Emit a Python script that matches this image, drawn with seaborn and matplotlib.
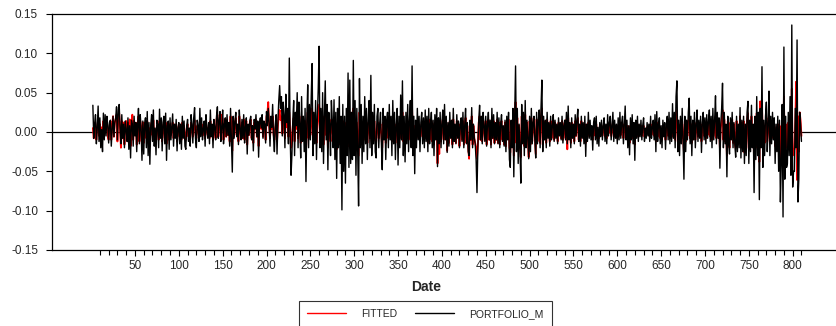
import numpy as np
import pandas as pd
import matplotlib
matplotlib.use("Agg")
import matplotlib.pyplot as plt
import seaborn as sns
from matplotlib.ticker import FixedLocator, FormatStrFormatter

# ---------------- data (values in thousandths) ----------------
first_date = 2
series_names = ["FITTED", "PORTFOLIO_M"]
y_ticks = [-0.15, -0.10, -0.05, 0.00, 0.05, 0.10, 0.15]
x_major_ticks = list(range(50, 801, 50))
x_minor_ticks = list(range(10, 811, 10))

portfolio_m_milli = [
    34, -8, 10, 22, -15, 5, 33, -12, 18, -20, 3, -25, 24, -10, 22, -5, 20, 8, -14, 12,
    15, -18, 4, 20, -6, 12, 18, 32, -10, 28, 35, 5, -15, 22, -8, 10, -20, 14, 3, -12,
    18, -22, 8, -33, 15, 10, -18, 20, -5, 12, -25, 8, 30, -15, 22, 5, -36, 14, -28, 10,
    18, -20, 26, -30, 12, -41, 8, 22, -12, 28, -18, 5, -29, 15, 10, -20, 29, -8, 18, -24,
    12, 20, -15, 24, -36, 8, 14, -22, 18, -10, 6, 23, -18, 10, -8, 16, -24, 5, 12, -15,
    10, -22, 20, -8, 14, -18, -22, 8, 16, -12, 5, -18, 22, 10, -14, 18, 31, -8, -20, 15,
    8, -12, 30, -6, 18, -10, 4, 14, -18, 22, 5, -8, 12, -15, 28, -6, 10, -20, 16, 6,
    -10, 20, 32, -8, 14, 26, -12, 5, 28, -15, 10, 18, -6, 22, -4, 12, -18, 30, -10, -51,
    20, -8, 14, 25, -6, 10, -16, 28, 4, -10, 16, -8, 22, -14, 6, 18, -28, 10, -4, 14,
    20, -10, 8, -24, 16, 4, 22, -6, 14, -32, 12, 18, 5, 22, -8, 14, 10, -14, 26, 8,
    30, 12, -18, 20, 6, 35, -6, -25, 10, 22, -28, 14, 40, 59, 30, 45, -5, 38, 22, -20,
    48, 12, 30, -15, 94, -5, -55, -28, 15, 40, -30, 25, 8, 50, -20, 38, 10, -33, 45, -12,
    20, -25, 30, -63, 15, 60, -20, 35, -10, 45, 87, -30, 25, -15, 40, -35, 20, 55, 109, -20,
    30, -25, 50, -40, 20, 65, -10, 35, -48, 25, 10, -30, 40, 15, -20, 41, -35, 25, -59, 30,
    -20, 45, -40, 20, -99, 35, -50, 20, -65, 30, -30, 75, -45, 66, -40, 25, -35, 91, -30, 40,
    -55, 30, -25, -94, 68, -20, 35, -40, 20, -25, 45, -15, 30, -35, 15, 40, -20, 72, -30, 25,
    -15, 35, -25, -33, 20, 30, -20, 10, 25, -15, -48, 30, -10, 20, -35, 15, 25, -20, 35, -10,
    20, -30, 40, -15, 25, -35, 10, 30, -42, 20, -20, 47, -10, 65, -30, 20, -38, 25, -15, 35,
    -25, 15, 40, -20, 84, -30, 20, -53, 15, -20, 30, -10, 20, -25, 12, 25, -15, 18, -20, 28,
    -12, 20, -25, 30, -15, 10, 25, -20, 15, -30, 22, -10, 30, -44, 18, -15, 25, -20, 10, 28,
    -15, 35, -10, 20, -26, 12, -18, 25, -8, 15, -20, 30, -12, 10, -15, 22, -8, 14, -20, 10,
    18, -12, 25, -20, 8, 30, -15, 12, -25, -30, 15, -10, 31, -20, 10, -8, -15, -35, -77, -20,
    15, 34, -10, 20, -15, 25, 8, -12, 20, -18, 10, 25, -10, 15, -20, 30, -8, 22, -15, 12,
    -10, 25, -15, 18, -20, 10, 22, -12, 8, -18, 15, -25, 20, -10, 25, -35, -45, 15, -20, 30,
    -57, 20, 84, -25, 30, -40, 10, -20, -65, 35, -15, 25, -30, 40, -20, 15, -10, -34, 20, -25,
    30, -15, 12, 20, -10, -33, 25, -15, 15, 28, -20, 30, 66, -25, 20, -10, 15, -20, 25, -8,
    12, -18, 20, -10, 8, 22, -12, 15, -8, 10, -15, 18, -5, 12, -10, 20, -14, 8, 15, -10,
    25, -15, 33, -10, 12, -20, 18, -8, 10, -15, 22, -5, 15, 29, -12, 10, -18, 20, -8, 12,
    -15, 20, -31, 10, -12, 25, -8, 15, -10, 8, -23, 12, 18, -10, 20, -15, 6, -18, 12, -6,
    15, -10, 8, 18, -12, 10, -15, 22, -5, 12, 20, -10, 8, 25, -12, 15, -8, 10, -15, 18,
    -10, 25, -8, 12, 20, -15, 10, 33, -10, 15, -20, 8, -29, 18, -10, 22, -15, 12, -36, 15,
    -8, 20, -12, 10, -6, 15, -10, 8, 18, -12, 5, -8, 12, -5, 10, -12, 20, -8, 6, 15,
    -10, 22, -25, 26, -12, 10, 18, -15, 8, -20, 15, -6, 12, -22, 10, 20, -10, 25, -15, 18,
    -12, 36, -8, 25, -20, 45, 65, -25, 15, -30, 20, -15, 30, -10, -60, 20, -25, 15, -10, 25,
    43, -15, 20, -30, 15, -10, 25, -20, 10, 28, -12, 15, -8, 20, -26, 12, 25, -10, 18, -15,
    22, -8, 15, 28, -12, 20, -20, 30, -10, 15, 46, -15, 25, -8, 18, -46, 10, 30, 62, -20,
    25, -15, 10, -57, 20, -15, -28, 18, -10, 25, -20, 12, -15, -32, 20, -25, 10, -20, 31, -33,
    15, -25, 20, -40, 10, -30, 25, 39, -40, 15, -25, 34, -20, 10, -77, 20, -35, 45, -30, 25,
    -86, 30, -20, 83, -45, 15, -30, 20, 38, -25, 10, 52, -30, 20, -15, 25, -10, 18, -40, 10,
    -25, 20, -50, 15, -89, -40, 35, -108, 108, -60, 20, -45, -40, 25, -30, 45, -55, 136, -70, -50,
    -50, 30, -20, 117, -89, -60, 25, 10, -12,
]

fitted_milli = [
    5, -8, 12, 3, -10, 8, 15, -5, 10, -12, 6, -8, 14, -4, 10, 2, 12, -6, -10, 8,
    14, -10, 8, 20, -6, 12, 16, 22, -12, 18, 24, 4, -20, 14, -8, 12, -16, 10, 14, -8,
    12, -14, 16, -18, 10, 22, -10, 14, 4, 12, -16, 8, 20, -12, 14, 6, -18, 12, -14, 10,
    12, -8, 14, -12, 5, -18, 6, 12, -4, 15, -6, 3, -10, 8, 5, -10, 14, -2, 10, -12,
    6, 10, -8, 12, -15, 4, 8, -10, 10, -4, 3, 12, -8, 6, -3, 10, -12, 2, 8, -6,
    5, -10, 12, -3, 8, -8, -10, 4, 10, -6, 3, -8, 12, 6, -6, 10, 15, -3, -8, 8,
    4, -5, 14, -2, 10, -5, 2, 8, -8, 12, 3, -4, 6, -8, 14, -2, 5, -10, 8, 3,
    -8, 16, 22, -6, 12, 18, -10, 22, 16, -10, 8, 14, -6, 16, -4, 10, -12, 20, -8, -24,
    14, -6, 12, 18, -4, 8, -12, 20, 4, -8, 12, -8, 16, -10, 6, 14, -16, 8, -4, 12,
    16, -8, 6, -14, 12, 4, 16, -6, 12, -18, 10, 14, 4, 16, -6, 12, 8, -10, 20, 24,
    38, 8, -8, 12, 4, 20, -3, -10, 5, 12, -12, 8, 22, 28, 15, 20, -2, 18, 10, -8,
    20, 6, 14, -6, 25, 2, -20, -10, 8, 18, -12, 12, 4, 22, -8, 16, 5, -14, 20, -5,
    10, -10, 14, -25, 6, 25, -8, 15, -4, 18, 30, -12, 10, -6, 16, -14, 8, 22, 35, -8,
    14, -10, 20, -16, 8, 25, -4, 14, -20, 10, 4, -12, 16, 6, -8, 18, -14, 10, -22, 12,
    -8, 18, -16, 8, -35, 14, -20, 8, -25, 12, -12, 28, -18, 25, -16, 10, -14, 30, -12, 16,
    -20, 12, -10, -30, 25, -8, 14, -16, 8, -10, 18, -6, 12, -14, 6, 16, -8, 25, -12, 10,
    -6, 14, -10, -14, 8, 12, -8, 4, 10, -6, -20, 12, -4, 8, -14, 6, 10, -8, 14, -4,
    8, -12, 16, -6, 10, -14, 4, 12, -16, 8, -8, 18, -4, 25, -12, 8, -15, 10, -6, 14,
    -10, 6, 16, -8, 30, -12, 8, -20, 6, -8, 12, -4, 8, -10, 5, 10, -6, 8, -8, 12,
    -8, 12, -14, 16, -10, 6, 14, -12, 10, -16, 12, -6, 16, -40, 10, -28, 14, -12, 6, 16,
    -10, 18, -8, 12, -24, 8, -14, 14, -6, 10, -16, 16, -8, 6, -14, 14, -6, 10, -18, 8,
    12, -10, 14, -16, 6, 18, -14, 8, -20, -34, 10, -10, 20, -16, 8, -8, -14, -20, -34, -16,
    12, 20, -10, 14, -12, 16, 6, -10, 14, -16, 8, 16, -10, 12, -16, 18, -8, 14, -14, 10,
    -10, 16, -14, 12, -16, 8, 14, -10, 6, -16, 12, -18, 14, -8, 16, -20, -26, 12, -16, 18,
    -30, 12, 38, -14, 18, -22, 8, -16, -32, 20, -12, 16, -18, 22, -14, 12, -8, -32, 14, -16,
    18, -12, 10, 14, -8, -28, 16, -12, 12, 18, -14, 18, 30, -16, 14, -8, 12, -14, 16, -6,
    10, -12, 14, -8, 6, 14, -10, 12, -6, 8, -12, 12, -4, 10, -8, 14, -10, 6, 12, -8,
    16, -22, 18, -8, 10, -14, 12, -6, 8, -12, 14, -5, 12, 18, -10, 8, -12, 14, -6, 10,
    -8, 10, -14, 5, -6, 12, -4, 8, -5, 4, -10, 6, 8, -5, 10, -8, 3, -8, 6, -3,
    8, -5, 4, 8, -6, 5, -8, 10, -2, 6, 10, -5, 4, 12, -6, 8, -4, 5, -8, 8,
    -5, 12, -4, 6, 10, -8, 5, 15, -5, 8, -10, 4, -14, 8, -5, 10, -8, 6, -16, 8,
    -4, 10, -6, 5, -3, 8, -5, 4, 8, -6, 3, -4, 6, -2, 5, -6, 10, -4, 3, 8,
    -5, 10, -12, 12, -6, 5, 8, -8, 4, -10, 8, -3, 6, -10, 5, 10, -5, 12, -8, 8,
    -6, 16, -4, 12, -10, 20, 28, -12, 8, -14, 10, -8, 14, -5, -26, 10, -12, 8, -5, 12,
    20, -8, 10, -14, 8, -5, 12, -10, 5, 14, -6, 8, -4, 10, -12, 6, 12, -5, 8, -8,
    10, -4, 8, 14, -6, 10, -10, 14, -5, 8, 20, -8, 12, -4, 8, -20, 5, 14, 28, -10,
    16, -12, 8, -30, 14, -12, -20, 12, -8, 16, -14, 10, -12, -20, 14, -16, 8, -14, 20, -20,
    12, -16, 14, -26, 8, -20, 16, 24, -22, 12, -16, 20, -14, 8, -38, 14, -20, 24, -18, 16,
    -38, 39, -10, 36, -20, 8, -14, 10, 18, -12, 5, 24, -14, 10, -8, 12, -5, 8, -18, 5,
    -12, 10, -22, 8, -40, -18, 28, -45, 45, -28, 10, -20, -18, 12, -14, 20, -25, 55, -30, -22,
    -22, 14, 64, -61, 20, -25, 25, 15, -5,
]

# ---------------- build frames ----------------
portfolio_m = np.array(portfolio_m_milli) / 1000.0
fitted = np.array(fitted_milli) / 1000.0
df_fit = pd.DataFrame({"Date": np.arange(first_date, first_date + len(fitted)), "value": fitted})
df_port = pd.DataFrame({"Date": np.arange(first_date, first_date + len(portfolio_m)), "value": portfolio_m})

# ---------------- style ----------------
sns.set_style("white")
plt.rcParams["font.family"] = ["Liberation Sans", "DejaVu Sans"]
plt.rcParams["axes.unicode_minus"] = False

W, H = 836, 326
fig = plt.figure(figsize=(W / 100, H / 100), dpi=100)
ax_left, ax_right, ax_top, ax_bottom = 52, 836, 14, 250
ax = fig.add_axes([ax_left / W, 1 - ax_bottom / H, (ax_right - ax_left) / W, (ax_bottom - ax_top) / H])

ax.axhline(0, color="black", lw=0.9, zorder=1)
sns.lineplot(data=df_fit, x="Date", y="value", color="#ff0000", lw=1.3, ax=ax,
             label=series_names[0], zorder=2)
sns.lineplot(data=df_port, x="Date", y="value", color="black", lw=1.0, ax=ax,
             label=series_names[1], zorder=3)

ax.set_xlim(-44.6, 849.4)
ax.set_ylim(-0.15, 0.15)
ax.yaxis.set_major_locator(FixedLocator(y_ticks))
ax.yaxis.set_major_formatter(FormatStrFormatter("%.2f"))
ax.xaxis.set_major_locator(FixedLocator(x_major_ticks))
ax.xaxis.set_minor_locator(FixedLocator(x_minor_ticks))

for side in ["left", "bottom", "top"]:
    ax.spines[side].set_visible(True)
    ax.spines[side].set_color("black")
    ax.spines[side].set_linewidth(0.9)
ax.spines["right"].set_visible(False)

ax.tick_params(axis="both", which="both", direction="out", color="black", width=0.8)
ax.tick_params(axis="x", which="major", length=4, labelsize=8.5, pad=3, bottom=True)
ax.tick_params(axis="x", which="minor", length=3.5, bottom=True)
ax.tick_params(axis="y", which="major", length=4, labelsize=8.5, pad=6, left=True)

ax.set_ylabel("")
ax.set_xlabel("Date", fontsize=10, fontweight="bold")
ax.xaxis.set_label_coords((425.7 - ax_left) / (ax_right - ax_left), (ax_bottom - 287) / (ax_bottom - ax_top))
ax.xaxis.label.set_va("center")

handles, labels = ax.get_legend_handles_labels()
ax.get_legend().remove()
leg = fig.legend(handles, labels, loc="upper center", bbox_to_anchor=(425.5 / W, 1 - 301 / H),
                 ncol=2, frameon=True, fancybox=False, edgecolor="black", fontsize=7.5,
                 handlelength=3.7, handletextpad=1.5, columnspacing=1.7, borderpad=0.75,
                 borderaxespad=0)
leg.get_frame().set_linewidth(0.8)
for line in leg.get_lines():
    line.set_linewidth(1.0)

fig.savefig("out.png", dpi=100)
